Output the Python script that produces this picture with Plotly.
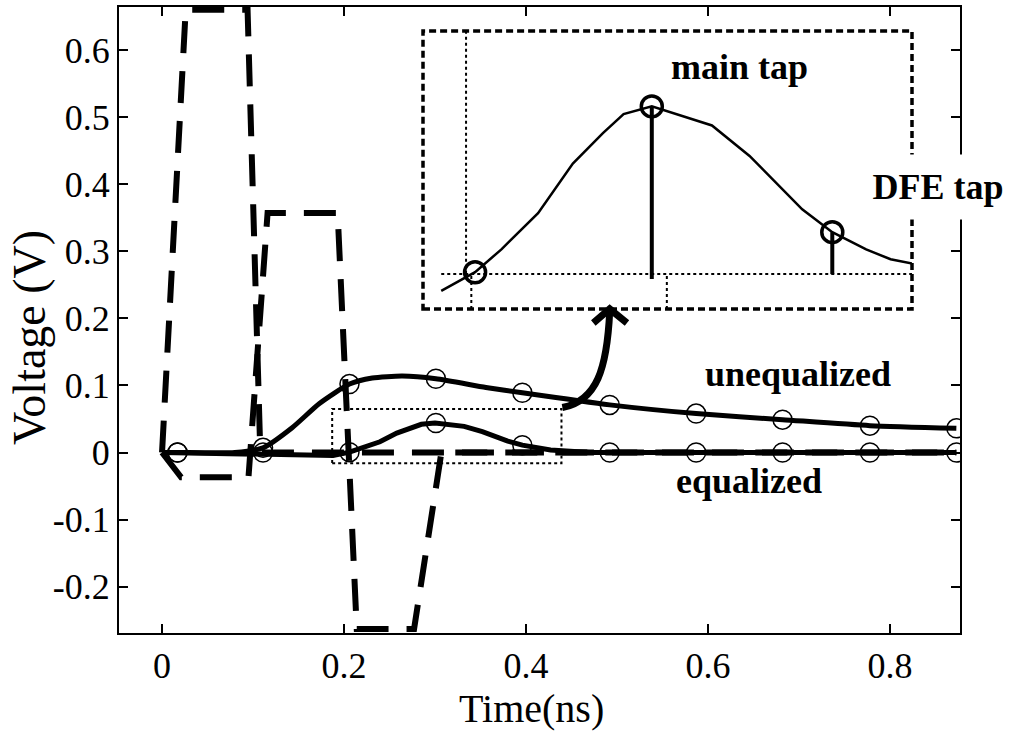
import plotly.graph_objects as go

# ---------------- data ----------------
# unequalized input pulse (dashed)
pulse_t = [0.0, 0.026, 0.094, 0.108, 0.873]
pulse_v = [0.0, 0.66, 0.66, 0.0, 0.0]

# FIR pre-emphasized drive waveform (dashed)
drive_t = [0.0, 0.021, 0.095, 0.116, 0.193, 0.214, 0.277, 0.307, 0.873]
drive_v = [0.0, -0.037, -0.037, 0.357, 0.357, -0.263, -0.263, 0.0, 0.0]

# received pulse response without equalization
uneq_t = [0.0, 0.017, 0.08, 0.111, 0.143, 0.173, 0.206, 0.231, 0.264, 0.301,
          0.356, 0.396, 0.492, 0.587, 0.682, 0.778, 0.873]
uneq_v = [0.0, 0.0, 0.0, 0.007, 0.037, 0.073, 0.102, 0.111, 0.114, 0.110,
          0.097, 0.089, 0.071, 0.058, 0.049, 0.040, 0.036]

# received pulse response with equalization
eq_t = [0.0, 0.188, 0.206, 0.220, 0.2395, 0.258, 0.274, 0.285, 0.300, 0.332,
        0.352, 0.380, 0.396, 0.414, 0.427, 0.440, 0.47, 0.873]
eq_v = [0.0, -0.0044, 0.0005, 0.0065, 0.016, 0.029, 0.037, 0.042, 0.044, 0.039,
        0.031, 0.017, 0.011, 0.0065, 0.0039, 0.0026, 0.0, 0.0]

# symbol-spaced sampling instants and sampled values
sample_t = [0.017, 0.111, 0.206, 0.301, 0.396, 0.492, 0.587, 0.682, 0.778, 0.873]
uneq_samples = [0.0, 0.007, 0.102, 0.110, 0.089, 0.071, 0.058, 0.049, 0.040, 0.036]
eq_samples = [0.0, 0.0, 0.0005, 0.044, 0.011, 0.0, 0.0, 0.0, 0.0, 0.0]

# taps highlighted in the magnified view: main cursor and first post-cursor (DFE)
tap_t = [0.206, 0.300, 0.396]
tap_v = [0.0005, 0.044, 0.011]

x_ticks = [0, 0.2, 0.4, 0.6, 0.8]
x_tick_text = ["0", "0.2", "0.4", "0.6", "0.8"]
y_ticks = [-0.2, -0.1, 0, 0.1, 0.2, 0.3, 0.4, 0.5, 0.6]
y_tick_text = ["-0.2", "-0.1", "0", "0.1", "0.2", "0.3", "0.4", "0.5", "0.6"]

# ---------------- layout geometry (pixels) ----------------
W, H = 1013, 734
PL, PR, PT, PB = 119, 960, 5, 633


def px_x(px):
    return (px - PL) / (PR - PL)


def px_y(py):
    return (PB - py) / (PB - PT)


SERIF = "Liberation Serif"
BLACK = "black"

fig = go.Figure()

# dashed drive waveforms
for t, v in [(pulse_t, pulse_v), (drive_t, drive_v)]:
    fig.add_trace(go.Scatter(x=t, y=v, mode="lines",
                             line=dict(color=BLACK, width=6, dash="32px,18px"),
                             hoverinfo="skip"))

# received responses
fig.add_trace(go.Scatter(x=uneq_t, y=uneq_v, mode="lines", line_shape="spline",
                         line=dict(color=BLACK, width=5, smoothing=0.6)))
fig.add_trace(go.Scatter(x=eq_t, y=eq_v, mode="lines",
                         line=dict(color=BLACK, width=5)))

# sampling points
for s in (uneq_samples, eq_samples):
    fig.add_trace(go.Scatter(x=sample_t, y=s, mode="markers",
                             marker=dict(symbol="circle-open", size=19,
                                         color=BLACK, line=dict(width=1.5))))

# ---------- magnified view of the equalized response ----------
fig.add_trace(go.Scatter(x=eq_t[1:], y=eq_v[1:], mode="lines",
                         xaxis="x2", yaxis="y2",
                         line=dict(color=BLACK, width=2.5)))
# tap stems
fig.add_trace(go.Scatter(x=[tap_t[1], tap_t[1], None, tap_t[2], tap_t[2]],
                         y=[tap_v[1], -0.0013, None, tap_v[2], 0.0],
                         mode="lines", xaxis="x2", yaxis="y2",
                         line=dict(color=BLACK, width=4)))
fig.add_trace(go.Scatter(x=tap_t, y=tap_v, mode="markers", xaxis="x2", yaxis="y2",
                         marker=dict(symbol="circle-open", size=21, color=BLACK,
                                     line=dict(width=3.5))))

shapes = []
# zoom region on the main plot
shapes.append(dict(type="rect", xref="x", yref="y", x0=0.187, x1=0.439,
                   y0=-0.016, y1=0.065, line=dict(color=BLACK, width=2, dash="dot")))
# inset frame
shapes.append(dict(type="rect", xref="x2 domain", yref="y2 domain", x0=0, x1=1,
                   y0=0, y1=1, line=dict(color=BLACK, width=3.5, dash="7px,4px")))
# inset guide lines
dot = dict(color=BLACK, width=2, dash="dot")
shapes.append(dict(type="line", xref="x2", yref="y2", x0=0.188, x1=0.4384,
                   y0=0, y1=0, line=dot))
shapes.append(dict(type="line", xref="x2", yref="y2 domain", x0=0.2012, x1=0.2012,
                   y0=0.127, y1=1, line=dot))
shapes.append(dict(type="line", xref="x2", yref="y2 domain", x0=0.204, x1=0.204,
                   y0=0, y1=0.127, line=dot))
shapes.append(dict(type="line", xref="x2", yref="y2 domain", x0=0.308, x1=0.308,
                   y0=0, y1=0.127, line=dot))
# curved arrow from the zoom region to the inset
shapes.append(dict(type="path", xref="x", yref="y",
                   path="M 0.440 0.067 C 0.478 0.077, 0.489 0.125, 0.492 0.210",
                   line=dict(color=BLACK, width=7)))
shapes.append(dict(type="path", xref="x", yref="y",
                   path="M 0.474 0.193 L 0.492 0.214 L 0.511 0.193",
                   line=dict(color=BLACK, width=7)))

annotations = []


def label(text, px, py, size=36, bold=True, **kw):
    annotations.append(dict(text=text, x=px_x(px), y=px_y(py), xref="paper",
                            yref="paper", showarrow=False, xanchor="center",
                            yanchor="middle",
                            font=dict(family=SERIF, size=size, color=BLACK,
                                      weight="bold" if bold else "normal"), **kw))


label("main tap", 739, 65)
label("DFE tap", 938, 186, bgcolor="white", width=146, height=62)
label("unequalized", 798, 373)
label("equalized", 749, 481)
label("Time(ns)", 531, 709, size=40, bold=False)
label("Voltage (V)", 30, 337, size=46, bold=False, textangle=-90)

axis_common = dict(showline=True, linewidth=2, linecolor=BLACK, mirror="ticks",
                   ticks="inside", ticklen=9, tickwidth=2, tickcolor=BLACK,
                   showgrid=False, zeroline=False,
                   tickfont=dict(family=SERIF, size=36, color=BLACK))

fig.update_layout(
    width=W, height=H,
    margin=dict(l=PL, r=W - PR, t=PT, b=H - PB),
    paper_bgcolor="white", plot_bgcolor="white",
    showlegend=False,
    font=dict(family=SERIF, color=BLACK),
    xaxis=dict(range=[-0.0473, 0.877], tickvals=x_ticks, ticktext=x_tick_text,
               **axis_common),
    yaxis=dict(range=[-0.269, 0.664], tickvals=y_ticks, ticktext=y_tick_text,
               **axis_common),
    xaxis2=dict(domain=[px_x(423), px_x(912)], range=[0.1783, 0.4384],
                anchor="y2", visible=False),
    yaxis2=dict(domain=[px_y(308), px_y(29)], range=[-0.00916, 0.0638],
                anchor="x2", visible=False),
    shapes=shapes,
    annotations=annotations,
)

fig.write_html("out.html")
